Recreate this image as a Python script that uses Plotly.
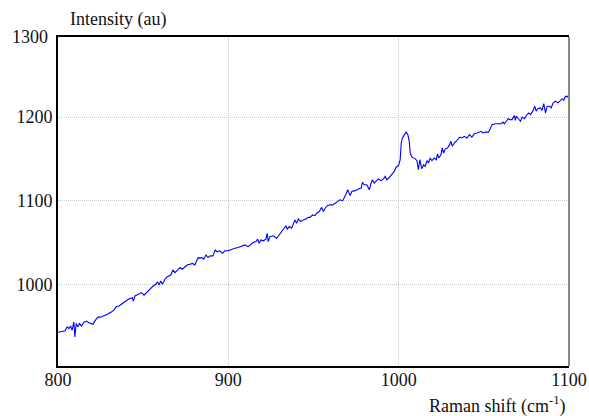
import plotly.graph_objects as go

raman_shift = [800, 802.5, 804, 805.4, 806.4, 807.4, 808.3, 809.3, 809.9, 810.7, 811.6, 812.6, 813.8, 815.2, 816.8,
    818.1, 820.5, 822, 823.6, 825, 826.9, 829, 831.5, 832.8, 834.2, 835.8, 837.8, 839.7, 841.3, 843.6,
    844.2, 845.2, 847.2, 849.1, 850.5, 851.9, 853.4, 855.4, 857.4, 858.4, 859.3, 860.3, 861.3, 862.8,
    864.2, 866.2, 867.5, 868.7, 870.1, 871.8, 873, 874.4, 875.8, 877.4, 879, 880.3, 881.3, 882.3, 883.2,
    884.2, 885.6, 886.8, 888.1, 889.5, 891, 892.3, 893.4, 895, 896.6, 897.9, 899.9, 901.9, 903.8, 905.8,
    907.8, 909.7, 911.6, 913.1, 914.6, 916.2, 917.2, 918.1, 919.1, 920.5, 922.1, 922.8, 923.4, 924.4,
    926.4, 928.4, 929.9, 931.3, 932.6, 933.8, 934.6, 935.8, 937.2, 938.1, 939.1, 940.1, 941.1, 942.5,
    944, 945.6, 946.9, 948, 949.5, 950.9, 951.9, 953.4, 954.8, 955.8, 956.8, 958.1, 959.7, 961.3, 962.6,
    964, 965.6, 967.2, 968.1, 969.1, 970.1, 971.5, 972.5, 974.4, 976.4, 978, 978.7, 979.7, 981.3, 982.2,
    982.8, 983.6, 984.6, 985.6, 986.8, 988.1, 989.7, 991.1, 992.1, 993.1, 994.6, 996, 997.4, 998.5,
    999.9, 1000.9, 1001.5, 1002.2, 1003.4, 1004.4, 1005.4, 1006.2, 1006.8, 1007.8, 1009.7, 1010.7,
    1011.6, 1012.4, 1013.6, 1014.6, 1015.6, 1016.6, 1017.5, 1018.5, 1019.5, 1020.9, 1022.1, 1022.8,
    1023.6, 1024.8, 1025.6, 1026.4, 1027.4, 1028.7, 1029.9, 1030.7, 1031.5, 1032.6, 1034.2, 1035.8,
    1037.2, 1038.5, 1040.1, 1041.6, 1043, 1044.4, 1046, 1047.4, 1048.4, 1049.5, 1050.9, 1052.8, 1053.8,
    1054.8, 1056.8, 1058.7, 1060.1, 1061.3, 1062, 1063.2, 1064.2, 1065.2, 1066.6, 1067.9, 1068.5,
    1069.1, 1070.5, 1071.5, 1072.5, 1073.8, 1075.4, 1076.4, 1077.4, 1079, 1079.9, 1080.7, 1081.6,
    1083.2, 1084.2, 1085.2, 1086.2, 1087.2, 1088.7, 1089.5, 1090.7, 1092.1, 1093.6, 1095, 1096, 1096.9,
    1097.9, 1098.9, 1100]

intensity = [942.5, 943, 944, 949, 947, 950, 945, 955, 937, 953, 949, 953, 950, 954.5, 956,
    954, 952, 957, 961, 960.5, 962, 964, 967, 969, 973, 974, 977, 980, 982, 984,
    980, 986, 988, 990, 987, 990, 993, 997, 1000, 1003, 999, 1004, 1000, 1006,
    1009, 1011, 1017, 1014, 1017, 1020, 1018, 1021, 1023, 1024, 1025, 1023, 1028, 1032, 1031,
    1032, 1030, 1035, 1032, 1034, 1034, 1041, 1039, 1040, 1037, 1040, 1040, 1042, 1043, 1044,
    1046, 1047, 1045, 1048, 1050, 1051, 1054, 1049, 1053, 1052, 1054, 1061, 1051, 1057,
    1058, 1055, 1059, 1063, 1067, 1070, 1066, 1069, 1067, 1073, 1077, 1073, 1078, 1075,
    1077, 1078, 1080, 1080, 1083, 1082, 1085, 1087, 1092, 1087, 1091, 1094, 1095, 1095, 1097,
    1099, 1101, 1100, 1103, 1108, 1113, 1106, 1111, 1112, 1114, 1115, 1122, 1119, 1119, 1116,
    1113, 1120, 1125, 1121, 1124, 1126, 1124, 1126, 1129, 1125, 1128, 1131, 1135, 1140,
    1142, 1149, 1169, 1175, 1179, 1182, 1179, 1171, 1157, 1152, 1150, 1148,
    1137, 1149, 1138, 1143, 1141, 1148, 1145, 1151, 1148, 1151, 1149, 1156,
    1151, 1155, 1163, 1157, 1162, 1163, 1167, 1171, 1165, 1169, 1172, 1176,
    1175, 1177, 1175, 1179, 1176, 1180, 1181, 1182, 1183, 1181, 1182, 1182, 1186,
    1191, 1192, 1192, 1192, 1194, 1192, 1195, 1198, 1197, 1197, 1202, 1196,
    1201, 1198, 1195, 1200, 1198, 1203, 1205, 1203, 1208, 1213, 1207, 1210,
    1211, 1208, 1216, 1205, 1213, 1213, 1211, 1217, 1219, 1217, 1220, 1222, 1220,
    1225, 1224, 1227]

x_ticks = [800, 900, 1000, 1100]
y_ticks = [1000, 1100, 1200]
y_top_label = "1300"

FONT = "Liberation Serif, Times New Roman, serif"
TXT = "#111111"

W, H = 589, 416
L, R, T, B = 58, 20, 37, 50
PW, PH = W - L - R, H - T - B

fig = go.Figure()
fig.add_trace(go.Scatter(x=raman_shift, y=intensity, mode="lines",
                         line=dict(color="#0000ff", width=1.1), showlegend=False, hoverinfo="skip"))

fig.update_layout(
    width=W, height=H,
    margin=dict(l=L, r=R, t=T, b=B, pad=0, autoexpand=False),
    paper_bgcolor="white", plot_bgcolor="white",
    font=dict(family=FONT, size=18, color=TXT),
    xaxis=dict(range=[800, 1100], tickvals=x_ticks, ticktext=[str(v) for v in x_ticks],
               showgrid=True, gridcolor="#c8c8c8", griddash="1px,1px", gridwidth=1,
               showline=True, linecolor="black", linewidth=2, mirror=True, automargin=False,
               ticks="", ticklabelstandoff=-4, ticklabeloverflow="allow", zeroline=False,
               tickfont=dict(family=FONT, size=18, color=TXT)),
    yaxis=dict(range=[902.2, 1295.8], tickvals=y_ticks, ticktext=[str(v) for v in y_ticks],
               showgrid=True, gridcolor="#c8c8c8", griddash="1px,1px", gridwidth=1,
               showline=True, linecolor="black", linewidth=2, mirror=False, automargin=False,
               ticks="", ticklabeloverflow="allow", zeroline=False,
               tickfont=dict(family=FONT, size=18, color=TXT)),
    shapes=[dict(type="line", xref="paper", yref="paper", x0=1, x1=1, y0=0, y1=1,
                 line=dict(color="#888888", width=2))],
    annotations=[
        dict(text="Intensity (au)", xref="paper", yref="paper", x=10/PW, y=(PH + 17)/PH,
             xanchor="left", yanchor="middle", showarrow=False,
             font=dict(family=FONT, size=18, color=TXT)),
        dict(text="Raman shift (cm<sup>-1</sup>)", xref="paper", yref="paper", x=(PW - 2)/PW, y=-39/PH,
             xanchor="right", yanchor="middle", showarrow=False,
             font=dict(family=FONT, size=18, color=TXT)),
        dict(text=y_top_label, xref="paper", yref="paper", x=-8/PW, y=1,
             xanchor="right", yanchor="middle", showarrow=False,
             font=dict(family=FONT, size=18, color=TXT)),
    ],
)

fig.write_html("out.html", config={"displayModeBar": False},
               post_script="document.body.style.margin='0';document.body.style.overflow='hidden';")
